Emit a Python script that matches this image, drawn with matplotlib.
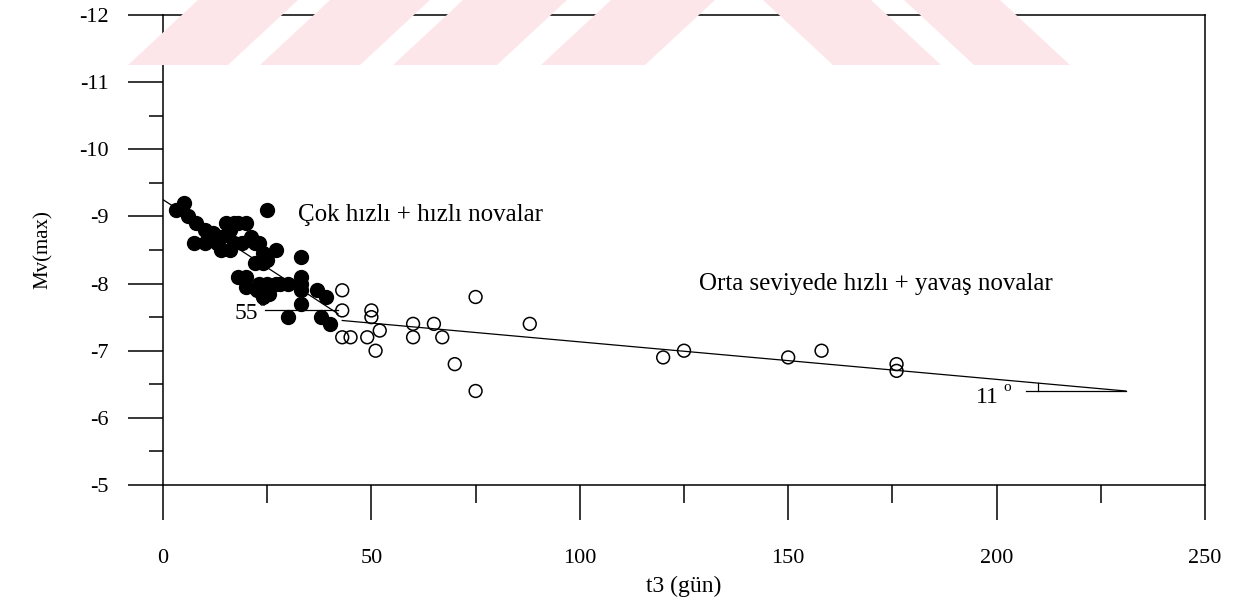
import matplotlib.pyplot as plt
from matplotlib.patches import Polygon
from matplotlib.ticker import MultipleLocator

plt.rcParams['font.family'] = ['Liberation Serif', 'DejaVu Serif']

# cok hizli + hizli novalar (dolu daireler)
fast_t3 = [3, 5, 6, 8, 7.5, 10, 10, 12, 13, 14, 15, 16, 17, 18, 20,
           14, 16, 17, 19, 21, 22, 23, 24, 27, 24, 25, 18, 20, 20, 22,
           23, 25, 22.5, 25.5, 24, 27, 28, 30, 33, 33, 33, 33, 33, 25,
           30, 37, 39, 38, 40]
fast_mv = [-9.1, -9.2, -9.0, -8.9, -8.6, -8.6, -8.8, -8.75, -8.6, -8.7, -8.9, -8.8, -8.9, -8.9, -8.9,
           -8.5, -8.5, -8.6, -8.6, -8.7, -8.6, -8.6, -8.45, -8.5, -8.3, -8.35, -8.1, -8.1, -7.95, -8.3,
           -8.0, -8.0, -7.9, -7.85, -7.8, -8.0, -8.0, -8.0, -8.1, -8.0, -7.9, -8.4, -7.7, -9.1,
           -7.5, -7.9, -7.8, -7.5, -7.4]

# orta seviyede hizli + yavas novalar (bos daireler)
slow_t3 = [43, 43, 50, 50, 43, 45, 49, 52, 51, 60, 60, 65, 67, 70, 75, 75, 88,
           120, 125, 150, 158, 176, 176]
slow_mv = [-7.9, -7.6, -7.6, -7.5, -7.2, -7.2, -7.2, -7.3, -7.0, -7.4, -7.2, -7.4, -7.2, -6.8, -7.8, -6.4, -7.4,
           -6.9, -7.0, -6.9, -7.0, -6.8, -6.7]

# dogru uydurmalari (uc noktalar)
fit_fast_t3 = [0, 42]
fit_fast_mv = [-9.25, -7.55]
fit_slow_t3 = [43, 231]
fit_slow_mv = [-7.45, -6.4]

fig = plt.figure(figsize=(12.56, 6.01), dpi=100)

# YOK filigrani
W, H = 1256.0, 601.0
def stripe(b0, b1, dx, col='#fde6ea'):
    pts = [(b0 / W, 1 - 65 / H), (b1 / W, 1 - 65 / H),
           ((b1 + dx) / W, 1.0), ((b0 + dx) / W, 1.0)]
    fig.patches.append(Polygon(pts, closed=True, transform=fig.transFigure,
                               facecolor=col, edgecolor='none', zorder=0))
for b0, b1 in [(128, 228), (260, 360), (393, 497), (541, 645)]:
    stripe(b0, b1, 70)
for b0, b1 in [(833, 941), (974, 1070)]:
    stripe(b0, b1, -70)

ax = fig.add_axes([163 / W, 1 - 485 / H, (1205 - 163) / W, (485 - 15) / H])
ax.patch.set_alpha(0)

ax.plot(fit_fast_t3, fit_fast_mv, color='black', lw=0.9)
ax.plot(fit_slow_t3, fit_slow_mv, color='black', lw=0.9)

ax.scatter(fast_t3, fast_mv, s=100, facecolor='black', edgecolor='black', zorder=3)
ax.scatter(slow_t3, slow_mv, s=85, facecolor='none', edgecolor='black', linewidths=1.1, zorder=3)

# aci isaretleri
ax.plot([24.5, 42], [-7.6, -7.6], color='black', lw=0.9)
ax.plot([207, 231], [-6.4, -6.4], color='black', lw=0.9)
ax.plot([210, 210], [-6.4, -6.52], color='black', lw=0.9)
ax.text(22.7, -7.55, '55', ha='right', va='center', fontsize=17)
ax.text(23.8, -7.72, 'o', ha='center', va='center', fontsize=11)
ax.text(200.5, -6.31, '11', ha='right', va='center', fontsize=17)
ax.text(202.6, -6.45, 'o', ha='center', va='center', fontsize=11)

ax.text(32.5, -9.02, 'Çok hızlı + hızlı novalar', ha='left', va='center', fontsize=18)
ax.text(128.5, -8.0, 'Orta seviyede hızlı + yavaş novalar', ha='left', va='center', fontsize=18)

ax.set_xlim(0, 250)
ax.set_ylim(-5, -12)
ax.xaxis.set_major_locator(MultipleLocator(50))
ax.xaxis.set_minor_locator(MultipleLocator(25))
ax.yaxis.set_major_locator(MultipleLocator(1))
ax.yaxis.set_minor_locator(MultipleLocator(0.5))
ax.set_yticklabels([f'{int(v)}' for v in ax.get_yticks()])

ax.tick_params(axis='x', which='major', length=25, width=1.1, pad=21, labelsize=16)
ax.tick_params(axis='x', which='minor', length=13, width=1.1)
ax.tick_params(axis='y', which='major', length=25, width=1.1, pad=14, labelsize=16)
ax.tick_params(axis='y', which='minor', length=10, width=1.1)
for sp in ax.spines.values():
    sp.set_linewidth(1.1)

ax.set_xlabel('t3 (gün)', fontsize=17, labelpad=6)
ax.set_ylabel('Mv(max)', fontsize=15, labelpad=19)

plt.savefig('out.png', dpi=100)
